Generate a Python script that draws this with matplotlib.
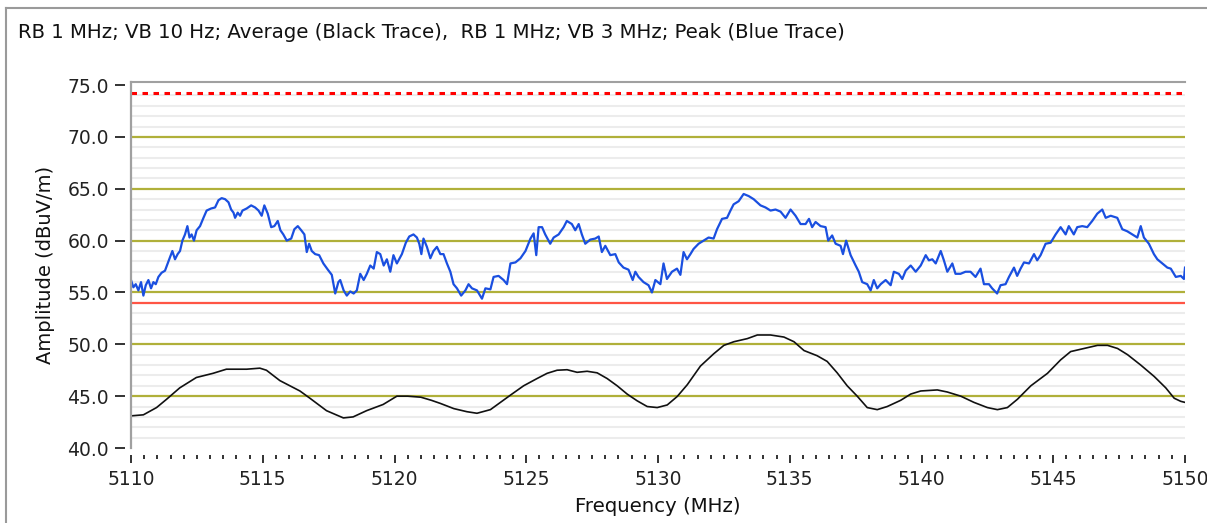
import matplotlib
matplotlib.use("Agg")
import matplotlib.pyplot as plt
from matplotlib.lines import Line2D
import numpy as np

# ---- data ----
title = "RB 1 MHz; VB 10 Hz; Average (Black Trace),  RB 1 MHz; VB 3 MHz; Peak (Blue Trace)"
xlabel = "Frequency (MHz)"
ylabel = "Amplitude (dBuV/m)"

peak_limit = 74.2    # red dotted
avg_limit = 54.0     # red solid

x_ticks = [5110, 5115, 5120, 5125, 5130, 5135, 5140, 5145, 5150]
x_ticklabels = ["5110", "5115", "5120", "5125", "5130", "5135", "5140", "5145", "5150"]
y_ticks = [40.0, 45.0, 50.0, 55.0, 60.0, 65.0, 70.0, 75.0]
y_ticklabels = ["40.0", "45.0", "50.0", "55.0", "60.0", "65.0", "70.0", "75.0"]

# blue trace (peak)
blue_f = [5110.00, 5110.09, 5110.18, 5110.28, 5110.38, 5110.47, 5110.56, 5110.66, 5110.76, 5110.85,
          5110.94, 5111.04, 5111.16, 5111.29, 5111.39, 5111.48, 5111.57, 5111.67, 5111.77, 5111.86,
          5111.95, 5112.05, 5112.14, 5112.22, 5112.30, 5112.39, 5112.49, 5112.62, 5112.75, 5112.87,
          5113.04, 5113.19, 5113.32, 5113.44, 5113.57, 5113.70, 5113.80, 5113.89, 5113.95, 5114.05,
          5114.14, 5114.23, 5114.39, 5114.56, 5114.71, 5114.84, 5114.96, 5115.06, 5115.19, 5115.32,
          5115.44, 5115.57, 5115.67, 5115.78, 5115.91, 5116.08, 5116.20, 5116.33, 5116.46, 5116.58,
          5116.67, 5116.76, 5116.86, 5116.99, 5117.14, 5117.30, 5117.47, 5117.62, 5117.75, 5117.87,
          5117.94, 5118.07, 5118.19, 5118.32, 5118.45, 5118.57, 5118.70, 5118.83, 5118.95, 5119.08,
          5119.21, 5119.33, 5119.46, 5119.59, 5119.71, 5119.84, 5119.96, 5120.09, 5120.28, 5120.43,
          5120.56, 5120.72, 5120.85, 5120.94, 5121.02, 5121.10, 5121.23, 5121.36, 5121.48, 5121.61,
          5121.74, 5121.86, 5121.99, 5122.12, 5122.24, 5122.37, 5122.53, 5122.69, 5122.81, 5122.94,
          5123.13, 5123.32, 5123.45, 5123.64, 5123.76, 5123.95, 5124.14, 5124.27, 5124.40, 5124.59,
          5124.78, 5124.97, 5125.16, 5125.28, 5125.38, 5125.47, 5125.60, 5125.72, 5125.91, 5126.04,
          5126.23, 5126.42, 5126.54, 5126.73, 5126.86, 5126.99, 5127.11, 5127.24, 5127.43, 5127.62,
          5127.75, 5127.87, 5128.00, 5128.19, 5128.38, 5128.51, 5128.69, 5128.88, 5129.04, 5129.14,
          5129.26, 5129.45, 5129.64, 5129.77, 5129.90, 5130.09, 5130.21, 5130.34, 5130.53, 5130.72,
          5130.85, 5130.97, 5131.10, 5131.23, 5131.35, 5131.54, 5131.73, 5131.92, 5132.11, 5132.24,
          5132.43, 5132.62, 5132.75, 5132.87, 5133.06, 5133.25, 5133.44, 5133.63, 5133.89, 5134.08,
          5134.27, 5134.46, 5134.65, 5134.84, 5135.03, 5135.22, 5135.41, 5135.60, 5135.73, 5135.85,
          5135.98, 5136.17, 5136.36, 5136.46, 5136.61, 5136.74, 5136.93, 5137.02, 5137.14, 5137.31,
          5137.50, 5137.62, 5137.75, 5137.94, 5138.07, 5138.19, 5138.32, 5138.45, 5138.64, 5138.83,
          5138.95, 5139.14, 5139.27, 5139.40, 5139.59, 5139.78, 5139.97, 5140.16, 5140.28, 5140.41,
          5140.54, 5140.73, 5140.85, 5140.98, 5141.17, 5141.29, 5141.48, 5141.67, 5141.86, 5142.05,
          5142.24, 5142.37, 5142.56, 5142.68, 5142.87, 5143.00, 5143.19, 5143.32, 5143.51, 5143.63,
          5143.76, 5143.89, 5144.08, 5144.27, 5144.39, 5144.52, 5144.71, 5144.90, 5145.09, 5145.28,
          5145.47, 5145.59, 5145.78, 5145.91, 5146.10, 5146.29, 5146.48, 5146.67, 5146.86, 5146.99,
          5147.18, 5147.43, 5147.62, 5147.81, 5148.00, 5148.19, 5148.32, 5148.44, 5148.63, 5148.82,
          5148.95, 5149.14, 5149.33, 5149.46, 5149.65, 5149.84, 5149.96, 5150.00]
blue_db = [56.2, 55.5, 55.8, 55.2, 56.0, 54.7, 55.7, 56.2, 55.4, 56.0,
           55.8, 56.5, 56.9, 57.1, 57.8, 58.4, 59.0, 58.2, 58.7, 59.0,
           60.0, 60.6, 61.4, 60.3, 60.6, 60.0, 61.0, 61.4, 62.2, 62.9,
           63.1, 63.2, 63.9, 64.1, 64.0, 63.7, 63.0, 62.7, 62.2, 62.7,
           62.4, 62.9, 63.1, 63.4, 63.2, 62.9, 62.4, 63.4, 62.6, 61.3,
           61.4, 61.9, 61.0, 60.6, 60.0, 60.2, 61.1, 61.4, 61.0, 60.6,
           58.9, 59.7, 59.0, 58.7, 58.6, 57.8, 57.2, 56.7, 54.9, 56.0,
           56.2, 55.2, 54.7, 55.1, 54.9, 55.2, 56.8, 56.2, 56.8, 57.6,
           57.3, 58.9, 58.7, 57.6, 58.2, 57.0, 58.6, 57.8, 58.7, 59.8,
           60.4, 60.6, 60.3, 59.7, 58.7, 60.2, 59.4, 58.3, 59.0, 59.4,
           58.7, 58.7, 57.8, 57.0, 55.8, 55.4, 54.7, 55.2, 55.8, 55.4,
           55.2, 54.4, 55.4, 55.3, 56.5, 56.6, 56.2, 55.8, 57.8, 57.9,
           58.3, 59.0, 60.2, 60.7, 58.6, 61.3, 61.3, 60.6, 59.7, 60.3,
           60.6, 61.3, 61.9, 61.6, 61.0, 61.6, 60.6, 59.7, 60.1, 60.2,
           60.4, 58.9, 59.5, 58.6, 58.7, 57.9, 57.4, 57.2, 56.2, 57.0,
           56.5, 56.0, 55.7, 55.0, 56.2, 55.8, 57.8, 56.3, 57.0, 57.3,
           56.7, 58.9, 58.2, 58.7, 59.2, 59.7, 60.0, 60.3, 60.2, 61.1,
           62.1, 62.2, 62.9, 63.5, 63.8, 64.5, 64.3, 64.0, 63.4, 63.2,
           62.9, 63.0, 62.8, 62.2, 63.0, 62.4, 61.6, 61.6, 62.1, 61.3,
           61.8, 61.4, 61.3, 60.0, 60.5, 59.7, 59.5, 58.7, 60.0, 58.6,
           57.6, 57.0, 56.0, 55.8, 55.2, 56.2, 55.4, 55.8, 56.2, 55.7,
           57.0, 56.8, 56.3, 57.1, 57.6, 57.0, 57.6, 58.6, 58.1, 58.2,
           57.8, 59.0, 58.1, 57.0, 57.8, 56.8, 56.8, 57.0, 57.0, 56.5,
           57.3, 55.8, 55.8, 55.4, 54.9, 55.7, 55.8, 56.5, 57.4, 56.6,
           57.3, 57.9, 57.8, 58.7, 58.1, 58.6, 59.7, 59.8, 60.6, 61.3,
           60.6, 61.4, 60.6, 61.3, 61.4, 61.3, 61.9, 62.6, 63.0, 62.2,
           62.4, 62.2, 61.1, 60.9, 60.6, 60.3, 61.4, 60.3, 59.7, 58.7,
           58.2, 57.8, 57.4, 57.3, 56.5, 56.6, 56.3, 57.4]

# black trace (average)
black_f = [5110.00, 5110.47, 5110.97, 5111.35, 5111.85, 5112.48, 5113.11, 5113.62, 5114.39, 5114.89,
           5115.14, 5115.65, 5116.41, 5116.79, 5117.42, 5118.06, 5118.43, 5118.94, 5119.57, 5120.09,
           5120.50, 5121.00, 5121.40, 5121.74, 5122.25, 5122.75, 5123.13, 5123.64, 5124.02, 5124.40,
           5124.90, 5125.41, 5125.79, 5126.17, 5126.55, 5126.93, 5127.31, 5127.69, 5128.07, 5128.45,
           5128.83, 5129.21, 5129.59, 5129.97, 5130.35, 5130.73, 5131.11, 5131.61, 5132.12, 5132.50,
           5132.88, 5133.39, 5133.77, 5134.27, 5134.78, 5135.16, 5135.54, 5136.04, 5136.42, 5136.80,
           5137.18, 5137.56, 5137.94, 5138.32, 5138.70, 5139.21, 5139.59, 5139.97, 5140.60, 5140.98,
           5141.49, 5141.99, 5142.50, 5142.88, 5143.26, 5143.64, 5144.15, 5144.78, 5145.28, 5145.66,
           5146.17, 5146.68, 5147.06, 5147.44, 5147.82, 5148.32, 5148.83, 5149.27, 5149.59, 5149.84,
           5150.00]
black_db = [43.1, 43.2, 43.9, 44.7, 45.8, 46.8, 47.2, 47.6, 47.6, 47.7,
            47.5, 46.5, 45.5, 44.8, 43.6, 42.9, 43.0, 43.6, 44.2, 45.0,
            45.0, 44.9, 44.6, 44.3, 43.8, 43.5, 43.35, 43.7, 44.4, 45.1,
            46.0, 46.7, 47.2, 47.5, 47.55, 47.3, 47.4, 47.25, 46.7, 46.0,
            45.2, 44.55, 44.0, 43.9, 44.15, 44.97, 46.1, 47.9, 49.1, 49.9,
            50.25, 50.55, 50.9, 50.9, 50.7, 50.25, 49.4, 48.9, 48.35, 47.25,
            46.0, 45.0, 43.9, 43.7, 44.0, 44.6, 45.2, 45.5, 45.6, 45.4,
            45.0, 44.4, 43.9, 43.7, 43.9, 44.7, 46.0, 47.2, 48.5, 49.3,
            49.6, 49.9, 49.9, 49.6, 49.0, 48.0, 46.9, 45.8, 44.8, 44.5,
            44.4]

W, H = 1207, 523
fig = plt.figure(figsize=(W / 100, H / 100), dpi=100)
fig.patch.set_facecolor("white")

# outer panel frame (top + left edges)
fig.add_artist(Line2D([6 / W, 1], [1 - 8 / H, 1 - 8 / H], color="#9a9a9a", lw=1.5, transform=fig.transFigure))
fig.add_artist(Line2D([6 / W, 6 / W], [0, 1 - 8 / H], color="#9a9a9a", lw=1.5, transform=fig.transFigure))

ax = fig.add_axes([131 / W, (H - 448) / H, (1185 - 131) / W, (448 - 82) / H])
ax.set_xlim(5110, 5150)
ax.set_ylim(40, 75.3)

# horizontal grid: light every 1 dB, olive every 5 dB
for v in np.arange(41, 75, 1):
    if v % 5 != 0:
        ax.axhline(v, color="#ececec", lw=1.5, zorder=1)
for v in y_ticks[1:-1]:
    ax.axhline(v, color="#b0b03a", lw=1.6, zorder=2)

ax.axhline(peak_limit, color="#ff0000", lw=2.2, linestyle=(0, (1.8, 1.8)), dash_capstyle="butt", zorder=3)
ax.axhline(avg_limit, color="#ff5545", lw=1.6, zorder=3)

ax.plot(black_f, black_db, color="#111111", lw=1.2, zorder=4)
ax.plot(blue_f, blue_db, color="#1a4fe0", lw=1.6, zorder=5)

# spines
ax.spines["right"].set_visible(False)
ax.spines["top"].set_color("#a0a0a0")
ax.spines["top"].set_linewidth(1.5)
ax.spines["left"].set_position(("outward", 4))
ax.spines["left"].set_visible(False)
ax.spines["bottom"].set_position(("outward", 5))
ax.spines["bottom"].set_visible(False)
ax.axvline(5110, color="#a0a0a0", lw=1.6, clip_on=False, zorder=6)

ax.set_xticks(x_ticks)
ax.set_xticklabels(x_ticklabels)
ax.set_xticks(np.arange(5110, 5150.01, 0.5), minor=True)
ax.set_yticks(y_ticks)
ax.set_yticklabels(y_ticklabels)

ax.tick_params(axis="x", which="major", length=6, width=1.4, color="#333333", pad=5, labelsize=13.5, labelcolor="#222222")
ax.tick_params(axis="x", which="minor", length=3, width=1.4, color="#333333")
ax.tick_params(axis="y", which="major", length=7, width=1.4, color="#333333", pad=5, labelsize=13.5, labelcolor="#222222")

fig.text(18 / W, 1 - 32 / H, title, ha="left", va="center", fontsize=14.2, color="#111111")
fig.text(658 / W, 1 - 507 / H, xlabel, ha="center", va="center", fontsize=14.2, color="#111111")
fig.text(46 / W, 1 - 265 / H, ylabel, ha="center", va="center", rotation=90, fontsize=14, color="#111111")

fig.savefig("out.png", dpi=100)
